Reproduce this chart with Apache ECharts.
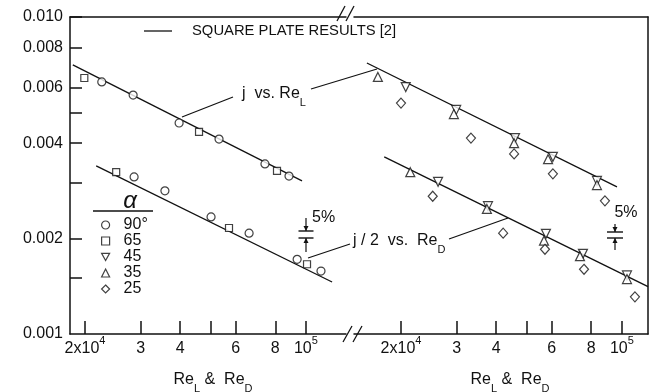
<!DOCTYPE html>
<html>
<head>
<meta charset="utf-8">
<script src="https://cdn.jsdelivr.net/npm/echarts@6/dist/echarts.min.js"></script>
<style>
  html, body { margin: 0; padding: 0; background: #fff; }
  #c { width: 652px; height: 392px; }
</style>
</head>
<body>
<div id="c"></div>
<script>
// ---- tick values ----
const yTickVals  = [0.0015, 0.002, 0.003, 0.004, 0.005, 0.006, 0.008, 0.010];
const yLabelVals = [0.001, 0.002, 0.004, 0.006, 0.008, 0.010];
const xTickVals  = [2e4, 3e4, 4e4, 5e4, 6e4, 8e4, 1e5];
const xLabelVals = [2e4, 3e4, 4e4, 6e4, 8e4, 1e5];

// ---- square plate correlation lines [Re, j] ----
const leftUpperFit  = [[1.83e4, 0.00706], [9.72e4, 0.00304]];
const leftLowerFit  = [[2.17e4, 0.00339], [1.21e5, 0.001459]];
const rightUpperFit = [[1.56e4, 0.00716], [9.65e4, 0.00291]];
const rightLowerFit = [[1.77e4, 0.00362], [1.21e5, 0.00141]];

// ---- left panel: j vs Re_L (upper), j/2 vs Re_D (lower) ----
const upper90 = [[2.26e4, 0.00624], [2.84e4, 0.00567], [3.97e4, 0.00463], [5.31e4, 0.00412], [7.42e4, 0.00344], [8.84e4, 0.00315]];
const upper65 = [[1.99e4, 0.00642], [4.59e4, 0.00434], [8.10e4, 0.00327]];
const lower90 = [[2.86e4, 0.00313], [3.58e4, 0.00283], [5.01e4, 0.00234], [6.61e4, 0.00208], [9.38e4, 0.00172], [1.116e5, 0.00158]];
const lower65 = [[2.51e4, 0.00324], [5.71e4, 0.00216], [1.008e5, 0.00166]];

// ---- right panel ----
const upper45 = [[2.07e4, 0.00601], [2.99e4, 0.00509], [4.59e4, 0.00415], [6.05e4, 0.00362], [8.34e4, 0.00304]];
const upper35 = [[1.69e4, 0.00647], [2.94e4, 0.00494], [4.56e4, 0.00400], [5.84e4, 0.00356], [8.34e4, 0.00295]];
const upper25 = [[2.00e4, 0.00535], [3.33e4, 0.00415], [4.56e4, 0.00370], [6.05e4, 0.00320], [8.84e4, 0.00263]];
const lower45 = [[2.62e4, 0.00302], [3.77e4, 0.00253], [5.75e4, 0.00207], [7.53e4, 0.00179], [1.038e5, 0.00153]];
const lower35 = [[2.14e4, 0.00324], [3.74e4, 0.00248], [5.67e4, 0.00197], [7.37e4, 0.00176], [1.038e5, 0.00149]];
const lower25 = [[2.52e4, 0.00272], [4.21e4, 0.00208], [5.71e4, 0.00185], [7.59e4, 0.00160], [1.10e5, 0.00131]];

const alphaNames = ['90°', '65', '45', '35', '25'];

const FONT = '"Liberation Sans", Arial, sans-serif';
const INK = '#111';

const chart = echarts.init(document.getElementById('c'));

function xLabelText(v) {
  if (Math.abs(v - 2e4) < 1) return '{b|2x10}{s|4}';
  if (Math.abs(v - 1e5) < 1) return '{b|10}{s|5}';
  return '{b|' + Math.round(v / 1e4) + '}';
}

const xRich = {
  b: { fontSize: 16, fontFamily: FONT, color: INK, lineHeight: 28 },
  s: { fontSize: 11, fontFamily: FONT, color: INK, verticalAlign: 'top' }
};

function bottomAxis(gridIndex, min, max) {
  return {
    type: 'log', logBase: 10, gridIndex, position: 'bottom', min, max,
    axisLine: { show: true, lineStyle: { color: INK, width: 1.5 } },
    axisTick: { show: true, inside: true, length: 13, customValues: xTickVals, lineStyle: { color: INK, width: 1.5 } },
    axisLabel: { show: true, customValues: xLabelVals, margin: 1, formatter: xLabelText, rich: xRich },
    splitLine: { show: false }, minorTick: { show: false }
  };
}
function topAxis(gridIndex, min, max) {
  return {
    type: 'log', logBase: 10, gridIndex, position: 'top', min, max,
    axisLine: { show: true, lineStyle: { color: INK, width: 1.5 } },
    axisTick: { show: false }, axisLabel: { show: false }, splitLine: { show: false }
  };
}

const xMinL = 17930, xMaxL = 133900;
const xMinR = 14200, xMaxR = 120980;

const markerStyle = { color: '#fff', borderColor: INK, borderWidth: 1.2 };

function fitLine(data, panel) {
  return {
    type: 'line', data, xAxisIndex: panel, yAxisIndex: panel,
    symbol: 'none', silent: true, z: 2,
    lineStyle: { color: INK, width: 1.3 }
  };
}
function pts(name, data, panel, symbol, size, rotate) {
  return {
    type: 'scatter', name, data, xAxisIndex: panel, yAxisIndex: panel,
    symbol, symbolSize: size, symbolRotate: rotate || 0, z: 5,
    itemStyle: markerStyle
  };
}

function richText(x, y, text, rich, align) {
  return {
    type: 'text', x, y, z: 20,
    style: { text, rich, align: align || 'left', verticalAlign: 'middle', fill: INK, font: '16px ' + FONT }
  };
}
function seg(x1, y1, x2, y2, w) {
  return { type: 'line', z: 20, shape: { x1, y1, x2, y2 }, style: { stroke: INK, lineWidth: w || 1.2 } };
}
function tri(points) {
  return { type: 'polygon', z: 20, shape: { points }, style: { fill: INK } };
}
function fivePct(cx, yTop, yBar1, yBar2, yBot, half) {
  return [
    seg(cx, yTop, cx, yBar1),
    tri([[cx - 2.5, yBar1 - 5], [cx + 2.5, yBar1 - 5], [cx, yBar1]]),
    seg(cx - half, yBar1, cx + half, yBar1, 1.4),
    seg(cx - half, yBar2, cx + half, yBar2, 1.4),
    tri([[cx - 2.5, yBar2 + 5], [cx + 2.5, yBar2 + 5], [cx, yBar2]]),
    seg(cx, yBar2, cx, yBot)
  ];
}

const subRich = {
  b: { fontSize: 16, fontFamily: FONT, fill: INK, lineHeight: 28 },
  u: { fontSize: 11, fontFamily: FONT, fill: INK, verticalAlign: 'bottom' }
};

const graphics = [
  // legend line for the correlation
  seg(144, 31, 172, 31, 1.3),
  { type: 'text', x: 192, y: 31, z: 20,
    style: { text: 'SQUARE PLATE RESULTS [2]', font: '14.8px ' + FONT, fill: INK, align: 'left', verticalAlign: 'middle' } },
  // line labels with leaders
  richText(242, 94, '{b|j  vs. Re}{u|L}', subRich),
  seg(182, 117, 233, 97),
  seg(311, 89, 377, 69),
  richText(353, 241, '{b|j / 2  vs.  Re}{u|D}', subRich),
  seg(308, 258, 350, 244),
  seg(449, 239, 508, 218),
  // alpha heading
  { type: 'text', x: 130, y: 201, z: 20,
    style: { text: 'α', font: 'italic 24px ' + FONT, fill: INK, align: 'center', verticalAlign: 'middle' } },
  seg(93, 211, 153, 211, 1.3),
  // 5% markers
  ...fivePct(306, 218, 231, 238, 252, 7.5),
  { type: 'text', x: 312, y: 218, z: 20,
    style: { text: '5%', font: '16px ' + FONT, fill: INK, align: 'left', verticalAlign: 'middle' } },
  ...fivePct(615, 224, 232, 238, 250, 8),
  { type: 'text', x: 626, y: 213, z: 20,
    style: { text: '5%', font: '16px ' + FONT, fill: INK, align: 'center', verticalAlign: 'middle' } },
  // axis breaks
  seg(337, 21, 345, 6, 1.3), seg(346, 21, 354, 6, 1.3),
  seg(343, 342, 352, 326, 1.3), seg(353, 342, 362, 326, 1.3),
  // axis titles
  richText(213, 380, '{b|Re}{u|L}{b| &  Re}{u|D}', subRich, 'center'),
  richText(510, 380, '{b|Re}{u|L}{b| &  Re}{u|D}', subRich, 'center')
];

const option = {
  animation: false,
  backgroundColor: '#fff',
  textStyle: { fontFamily: FONT },
  grid: [
    { left: 70, top: 17, width: 276, height: 317 },
    { left: 354, top: 17, width: 294, height: 317 }
  ],
  xAxis: [
    bottomAxis(0, xMinL, xMaxL),
    bottomAxis(1, xMinR, xMaxR),
    topAxis(0, xMinL, xMaxL),
    topAxis(1, xMinR, xMaxR)
  ],
  yAxis: [
    {
      type: 'log', logBase: 10, gridIndex: 0, position: 'left', min: 0.001, max: 0.010,
      axisLine: { show: true, lineStyle: { color: INK, width: 1.5 } },
      axisTick: { show: true, inside: true, length: 12, customValues: yTickVals, lineStyle: { color: INK, width: 1.5 } },
      axisLabel: { show: true, customValues: yLabelVals, margin: 7, fontSize: 16, fontFamily: FONT, color: INK,
                   formatter: v => v.toFixed(3) },
      splitLine: { show: false }
    },
    {
      type: 'log', logBase: 10, gridIndex: 1, position: 'right', min: 0.001, max: 0.010,
      axisLine: { show: true, lineStyle: { color: INK, width: 1.5 } },
      axisTick: { show: false }, axisLabel: { show: false }, splitLine: { show: false }
    }
  ],
  legend: {
    data: alphaNames.map(n => n === '45'
      ? { name: n, icon: 'path://M0,0L10,0L5,9Z' }
      : { name: n }),
    orient: 'vertical', left: 96, top: 212,
    itemWidth: 8, itemHeight: 8, itemGap: 0, selectedMode: false,
    itemStyle: { color: '#fff', borderColor: INK, borderWidth: 1.2 },
    textStyle: { fontSize: 16, fontFamily: FONT, color: INK, padding: [0, 0, 0, 9] }
  },
  series: [
    fitLine(leftUpperFit, 0), fitLine(leftLowerFit, 0),
    fitLine(rightUpperFit, 1), fitLine(rightLowerFit, 1),
    pts('90°', upper90, 0, 'circle', 8),
    pts('90°', lower90, 0, 'circle', 8),
    pts('65', upper65, 0, 'rect', 7),
    pts('65', lower65, 0, 'rect', 7),
    pts('45', upper45, 1, 'triangle', 9, 180),
    pts('45', lower45, 1, 'triangle', 9, 180),
    pts('35', upper35, 1, 'triangle', 9),
    pts('35', lower35, 1, 'triangle', 9),
    pts('25', upper25, 1, 'diamond', [9, 10]),
    pts('25', lower25, 1, 'diamond', [9, 10])
  ],
  graphic: graphics
};

chart.setOption(option);
</script>
</body>
</html>
